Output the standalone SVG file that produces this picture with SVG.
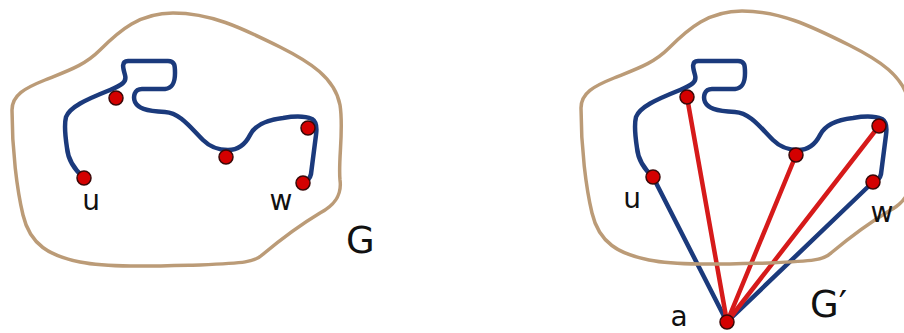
<svg xmlns="http://www.w3.org/2000/svg" xmlns:xlink="http://www.w3.org/1999/xlink" width="904" height="333" viewBox="0 0 904 333">
<style>
.bnd{fill:none;stroke:#bb9b77;stroke-width:3.5;stroke-linejoin:round}
.path{fill:none;stroke:#1b3a7c;stroke-width:4.5;stroke-linecap:round;stroke-linejoin:round}
.blue{stroke:#1b3a7c;stroke-width:4.5;stroke-linecap:round}
.red{stroke:#d61a1a;stroke-width:4.5;stroke-linecap:round}
.node{fill:#d40000;stroke:#3a0808;stroke-width:1.5}
.lbl{font-family:"DejaVu Sans",sans-serif;font-size:28px;fill:#111}
.big{font-family:"DejaVu Sans",sans-serif;font-size:37px;fill:#111}
</style>
<defs>
<path id="bshape" d="M173,13 C210,13 240,27 280,47 C310,62 335,78 340,105 C344,130 338,160 340,180 C342,195 335,205 320,213 C300,225 280,240 262,255 C255,262 245,263 200,265 C160,266 110,268 80,262 C50,256 30,245 23,215 C17,190 12,150 12,110 C12,95 25,88 45,80 C70,70 85,65 100,50 C120,30 140,13 173,13 Z"/>
<path id="wpath" d="M84,178 C75,170 68,160 67,148 C65,135 64,125 66,117 C70,107 85,100 110,90 C122,85 127,82 125,75 C123,68 121,61 128,61 L168,61 C175,61 175,66 175,73 C175,82 173,88 165,89 L142,89 C134,89 133,97 135,102 C138,108 145,111 165,112 C180,113 190,127 203,140 C210,147 218,150 228,150 C238,150 245,145 250,135 C255,125 265,120 283,118 C295,116 305,116 312,119 C317,122 317,128 316,135 L311,174 C310,179 307,181 303,182"/>
</defs>

<g id="graph-G">
<use xlink:href="#bshape" class="bnd"/>
<use xlink:href="#wpath" class="path"/>
<text class="big" x="346" y="253">G</text>
</g>

<g id="graph-Gp-path" transform="translate(570,0)">
<use xlink:href="#wpath" class="path"/>
</g>

<g id="connectors">
<line class="blue" x1="653" y1="177" x2="727" y2="322"/>
<line class="blue" x1="873" y1="182" x2="727" y2="322"/>
<line class="red" x1="687" y1="97" x2="727" y2="322"/>
<line class="red" x1="796" y1="155" x2="727" y2="322"/>
<line class="red" x1="879" y1="126" x2="727" y2="322"/>
</g>

<g id="graph-Gp-boundary" transform="translate(569,-2)">
<use xlink:href="#bshape" class="bnd"/>
</g>
<text class="big" x="810" y="317">G′</text>

<g id="left-nodes">
<g id="n-u"><circle class="node" cx="84" cy="178" r="7"/><text class="lbl" x="91" y="210" text-anchor="middle">u</text></g>
<g id="n-l1"><circle class="node" cx="116" cy="98" r="7"/></g>
<g id="n-l2"><circle class="node" cx="226" cy="157" r="7"/></g>
<g id="n-l3"><circle class="node" cx="308" cy="128" r="7"/></g>
<g id="n-w"><circle class="node" cx="303" cy="183" r="7"/><text class="lbl" x="281" y="210" text-anchor="middle">w</text></g>
</g>

<g id="right-nodes">
<g id="n-u2"><circle class="node" cx="653" cy="177" r="7"/><text class="lbl" x="632" y="208" text-anchor="middle">u</text></g>
<g id="n-r1"><circle class="node" cx="687" cy="97" r="7"/></g>
<g id="n-r2"><circle class="node" cx="796" cy="155" r="7"/></g>
<g id="n-r3"><circle class="node" cx="879" cy="126" r="7"/></g>
<g id="n-w2"><circle class="node" cx="873" cy="182" r="7"/><text class="lbl" x="882" y="222" text-anchor="middle">w</text></g>
<g id="n-a"><circle class="node" cx="727" cy="322" r="7"/><text class="lbl" x="679" y="326" text-anchor="middle">a</text></g>
</g>
</svg>
